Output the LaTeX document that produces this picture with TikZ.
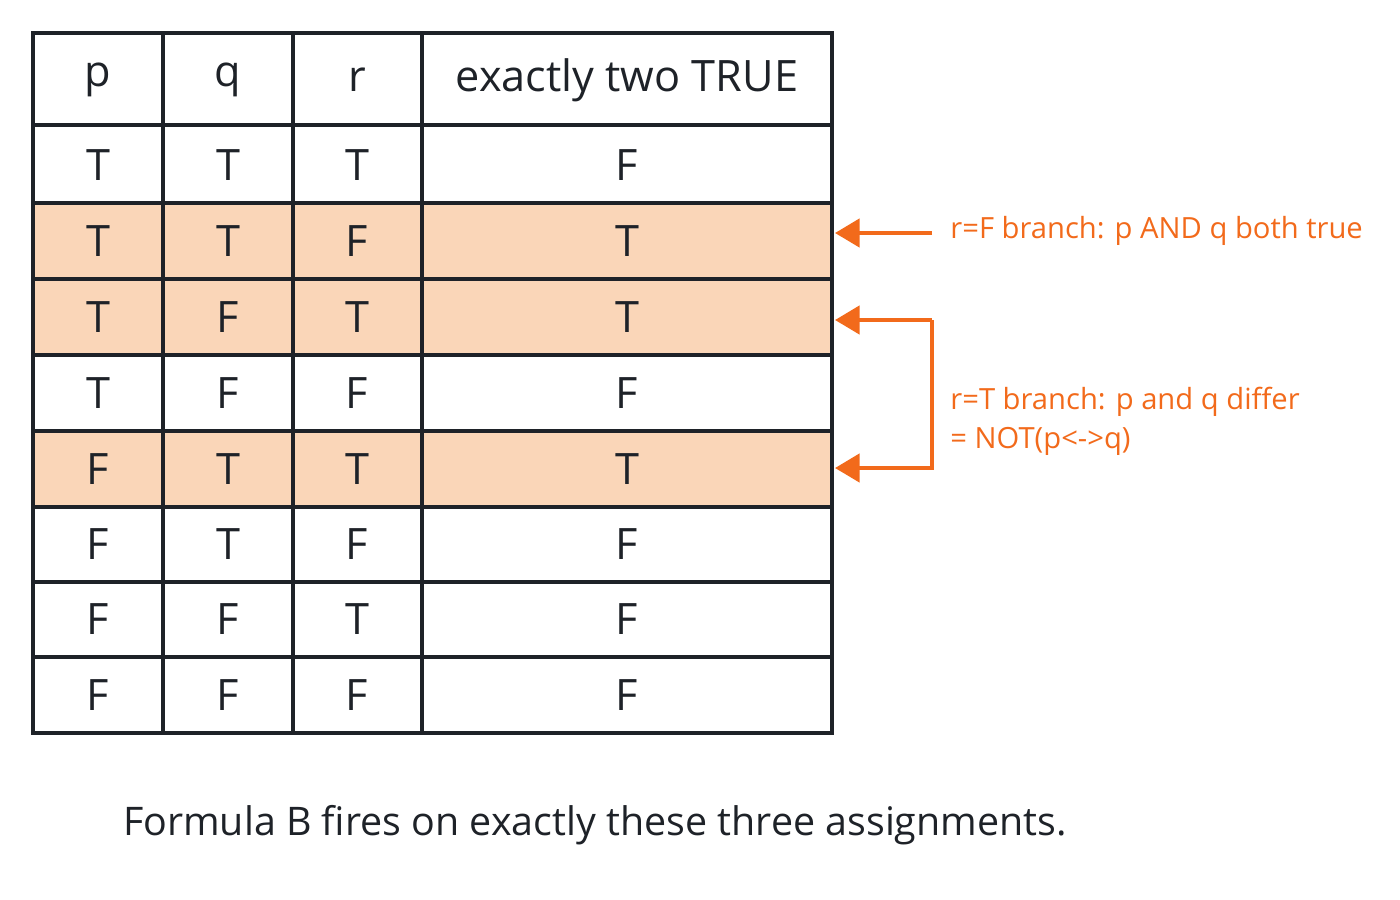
\documentclass[tikz,border=0pt]{standalone}
\usepackage{fontspec}
\setmainfont{Open Sans}
\usetikzlibrary{arrows.meta}
\definecolor{hilite}{HTML}{FAD6B8}
\definecolor{accent}{HTML}{F26A1B}
\definecolor{ink}{HTML}{1E2228}
\begin{document}
\begin{tikzpicture}[x=0.01cm,y=-0.01cm,
  cell/.style={text=ink,font=\fontsize{12.3}{15}\selectfont,anchor=center},
  note/.style={text=accent,font=\fontsize{8.3}{11}\selectfont,anchor=west},
  pointer/.style={accent,line width=1.2pt,-{Triangle[length=7pt,width=8pt]}}]
\useasboundingbox (0,0) rectangle (1400,900);
% highlighted rows
\fill[hilite] (33,203) rectangle (832,279);
\fill[hilite] (33,279) rectangle (832,355);
\fill[hilite] (33,431) rectangle (832,507);
% grid
\draw[ink,line width=1.1pt] (33,33) rectangle (832,733);
\foreach \x in {163,293,422} \draw[ink,line width=1.1pt] (\x,33) -- (\x,733);
\foreach \y in {125,203,279,355,431,507,582,657} \draw[ink,line width=1.1pt] (33,\y) -- (832,\y);
% header
\node[cell] (hp) at (98,80) {p};
\node[cell] (hq) at (228,80) {q};
\node[cell] (hr) at (357,80) {r};
\node[cell] (hx) at (627,80) {exactly two TRUE};
% rows
\foreach \p/\q/\r/\v [count=\i] in {T/T/T/F,T/T/F/T,T/F/T/T,T/F/F/F,F/T/T/T,F/T/F/F,F/F/T/F,F/F/F/F}{
  \pgfmathsetmacro{\yc}{{0,165,241,317,393,469,544,619,695}[\i]}
  \node[cell] (p\i) at (98,\yc) {\p};
  \node[cell] (q\i) at (228,\yc) {\q};
  \node[cell] (r\i) at (357,\yc) {\r};
  \node[cell] (v\i) at (627,\yc) {\v};
}
% notes
\node[note] (nF) at (938,231) {r=F branch: p AND q both true};
\node[note,align=left] (nT) at (938,421) {r=T branch: p and q differ\\= NOT(p<->q)};
\coordinate (aF) at (835,233);
\coordinate (a3) at (835,320);
\coordinate (a5) at (835,468);
\coordinate (b3) at (932,320);
\coordinate (b5) at (932,468);
\draw[pointer] (932,233) -- (aF);
\draw[pointer] (b3) -- (a3);
\draw[pointer] (b3) -- (b5) -- (a5);
% caption
\node[text=ink,font=\fontsize{11.2}{14}\selectfont] (cap) at (595,825) {Formula B fires on exactly these three assignments.};
\end{tikzpicture}
\end{document}
